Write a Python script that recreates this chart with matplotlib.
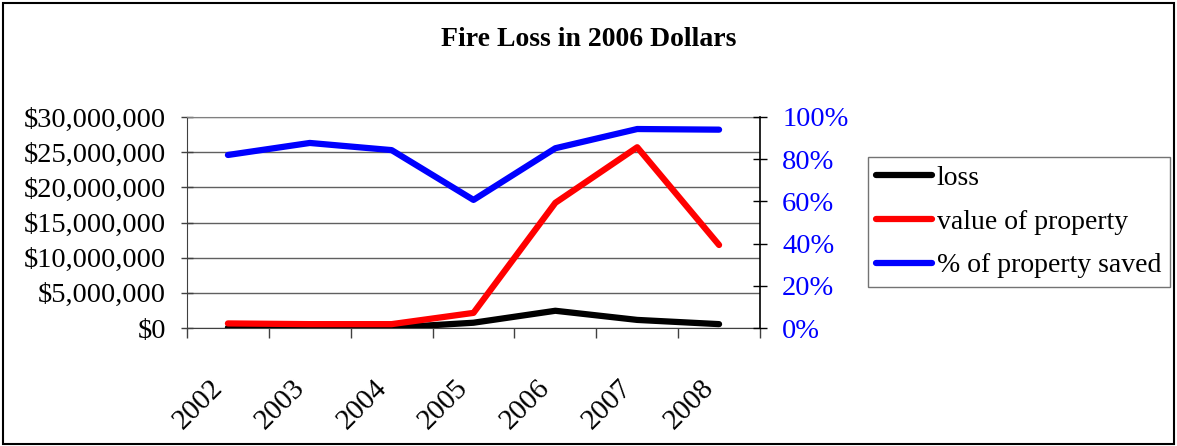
import numpy as np
import matplotlib
matplotlib.use("Agg")
import matplotlib.pyplot as plt
from matplotlib.ticker import FuncFormatter, FixedLocator
from matplotlib.patches import Rectangle

years = ["2002", "2003", "2004", "2005", "2006", "2007", "2008"]
loss = [50000, 50000, 50000, 750000, 2450000, 1150000, 550000]
value_of_property = [650000, 550000, 550000, 2150000, 17800000, 25700000, 11800000]
pct_saved = [82.0, 87.7, 84.3, 60.7, 85.2, 94.3, 94.0]

plt.rcParams['font.family'] = ['Liberation Serif', 'DejaVu Serif']

W, H = 1177, 446
fig = plt.figure(figsize=(W / 100, H / 100), dpi=100)
L, R, T, B = 187, 760, 117, 328
ax = fig.add_axes([L / W, 1 - B / H, (R - L) / W, (B - T) / H])
ax2 = ax.twinx()

x = np.arange(len(years))
lw = 4.5
style = dict(lw=lw, solid_capstyle='round', solid_joinstyle='round')
l1, = ax.plot(x, loss, color='black', label='loss', zorder=3, **style)
l2, = ax.plot(x, value_of_property, color='#FF0000', label='value of property', zorder=4, **style)
l3, = ax2.plot(x, pct_saved, color='#0000FF', label='% of property saved', zorder=3, **style)

ax.set_xlim(-0.5, len(years) - 0.5)
ax.set_ylim(0, 30000000)
ax2.set_ylim(0, 100)

ax.set_yticks(np.arange(0, 30000001, 5000000))
ax.yaxis.set_major_formatter(FuncFormatter(lambda v, p: "${:,.0f}".format(v)))
ax2.set_yticks(np.arange(0, 101, 20))
ax2.yaxis.set_major_formatter(FuncFormatter(lambda v, p: "{:.0f}%".format(v)))

ax.xaxis.set_major_locator(FixedLocator(np.arange(-0.5, len(years), 1.0)))
ax.xaxis.set_minor_locator(FixedLocator(x))
ax.set_xticklabels([], minor=False)
ax.set_xticklabels(years, minor=True, rotation=45, ha='right', va='top')
ax.tick_params(axis='x', which='major', direction='out', length=7, width=1, color='#404040')
ax.tick_params(axis='x', which='minor', length=0, pad=34, labelsize=21)

ax.tick_params(axis='y', direction='inout', length=8, width=1, color='#404040', labelsize=20.5, pad=11)
ax2.tick_params(axis='y', direction='inout', length=10, width=1, color='black', labelsize=20.5, pad=11,
                labelcolor='#0000FF')

ax.grid(True, axis='y', color='#606060', lw=1)
ax.set_axisbelow(True)
ax.spines['top'].set_color('#808080')
ax2.spines['top'].set_visible(False)
ax.spines['right'].set_visible(False)
ax2.spines['left'].set_visible(False)
ax2.spines['bottom'].set_visible(False)
ax.spines['left'].set_color('#404040')
ax.spines['bottom'].set_color('#404040')
ax2.spines['right'].set_color('black')
ax2.spines['right'].set_linewidth(1.2)

fig.text(0.5, 1 - 40 / H, "Fire Loss in 2006 Dollars", ha='center', va='center',
         fontsize=20, fontweight='bold')

leg = fig.legend([l1, l2, l3], ['loss', 'value of property', '% of property saved'],
                 loc='upper left', bbox_to_anchor=(868 / W, 1 - 157 / H),
                 fontsize=20, frameon=True, fancybox=False, edgecolor='#505050',
                 handlelength=2.0, handletextpad=0.18, labelspacing=0.66,
                 borderpad=0.3, borderaxespad=0)
leg.get_frame().set_linewidth(1.0)

fig.patches.append(Rectangle((3 / W, 2 / H), (W - 6) / W, (H - 5) / H, transform=fig.transFigure,
                             fill=False, edgecolor='black', lw=1.5))

fig.savefig("out.png", dpi=100)
